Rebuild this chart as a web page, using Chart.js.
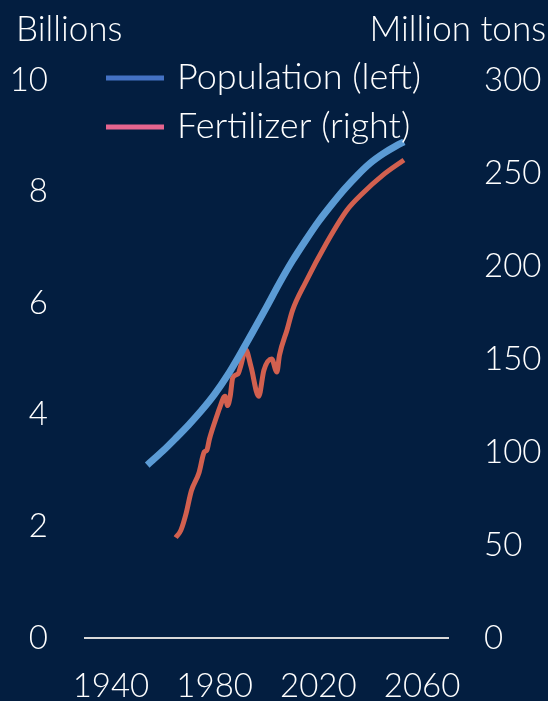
<!DOCTYPE html>
<html>
<head>
<meta charset="utf-8">
<script src="https://cdn.jsdelivr.net/npm/chart.js@4"></script>
<style>
    html, body { margin: 0; padding: 0; background: #031e40; }
    #wrap { position: relative; width: 548px; height: 701px; }
</style>
</head>
<body>
<div id="wrap"><canvas id="popChart"></canvas></div>
<script>
// world population, billions (left axis)
var popYears = [1954, 1960, 1965, 1970, 1975, 1980, 1985, 1990, 1995, 2000, 2005,
    2010, 2015, 2020, 2025, 2030, 2035, 2040, 2045, 2050, 2053];
var popBillions = [3.10, 3.35, 3.58, 3.82, 4.08, 4.37, 4.71, 5.10, 5.51, 5.93, 6.36,
    6.76, 7.12, 7.46, 7.76, 8.04, 8.29, 8.51, 8.68, 8.82, 8.89];

// fertilizer use, million tons (right axis)
var fertYears = [1965, 1967, 1969, 1971, 1974, 1976, 1977, 1978, 1981, 1982, 1984, 1985,
    1986, 1987, 1989, 1990, 1992, 1994, 1997, 1999, 2002, 2004, 2005, 2008, 2010,
    2015, 2023, 2031, 2037, 2045, 2053];
var fertTons = [54, 58, 67, 79, 89, 100, 101, 107, 120, 124, 130, 125,
    130, 140, 142, 146, 155, 146, 130, 144, 150, 143, 152, 166, 176,
    191, 212, 230, 239, 249, 257];

var xTicks = [1940, 1980, 2020, 2060];
var seriesNames = ['Population (left)', 'Fertilizer (right)'];

var fontFamily = 'Lato, "Open Sans", sans-serif';
Chart.defaults.font.family = fontFamily;
Chart.defaults.font.size = 33;
Chart.defaults.font.weight = '300';
Chart.defaults.color = '#ffffff';

function toPoints(xs, ys) {
    return xs.map(function (x, i) { return {x: x, y: ys[i]}; });
}

// titles above the axes and the legend inside the plot
var overlay = {
    id: 'overlay',
    afterDraw: function (chart) {
        var ctx = chart.ctx;
        ctx.save();
        ctx.fillStyle = '#ffffff';
        ctx.textBaseline = 'middle';
        ctx.font = '300 35px ' + fontFamily;
        ctx.textAlign = 'left';
        ctx.fillText('Billions', 16, 30);
        ctx.textAlign = 'right';
        ctx.fillText('Million tons', 546, 30);

        ctx.font = '300 36px ' + fontFamily;
        var rows = [77, 126];
        chart.data.datasets.forEach(function (ds, i) {
            ctx.strokeStyle = ds.legendColor;
            ctx.lineWidth = 5;
            ctx.beginPath();
            ctx.moveTo(106, rows[i] + 1);
            ctx.lineTo(164, rows[i] + 1);
            ctx.stroke();
            ctx.textAlign = 'left';
            ctx.fillText(ds.label, 177, rows[i]);
        });
        ctx.restore();
    }
};

var ctx = document.getElementById('popChart').getContext('2d');
var chart = new Chart(ctx, {
    type: 'line',
    data: {
        datasets: [{
            label: seriesNames[0],
            data: toPoints(popYears, popBillions),
            yAxisID: 'yLeft',
            borderColor: '#5b9bd5',
            legendColor: '#4472c4',
            borderWidth: 7,
            borderJoinStyle: 'round',
            pointRadius: 0,
            cubicInterpolationMode: 'monotone'
        }, {
            label: seriesNames[1],
            data: toPoints(fertYears, fertTons),
            yAxisID: 'yRight',
            borderColor: '#d2604f',
            legendColor: '#e5658f',
            borderWidth: 5,
            borderJoinStyle: 'round',
            pointRadius: 0,
            cubicInterpolationMode: 'monotone'
        }]
    },
    options: {
        responsive: true,
        maintainAspectRatio: false,
        animation: false,
        layout: {padding: {top: 80, left: 0, right: 0, bottom: 0}},
        plugins: {legend: {display: false}, tooltip: {enabled: false}},
        scales: {
            x: {
                type: 'linear',
                min: 1930,
                max: 2070,
                grid: {display: false, drawTicks: false},
                border: {display: true, color: '#d9d9d9', width: 2},
                ticks: {
                    padding: 29,
                    maxRotation: 0,
                    callback: function (value) { return String(value); }
                },
                afterBuildTicks: function (scale) {
                    scale.ticks = xTicks.map(function (v) { return {value: v}; });
                },
                afterFit: function (scale) { scale.height = 63; }
            },
            yLeft: {
                position: 'left',
                min: 0,
                max: 10,
                grid: {display: false, drawTicks: false},
                border: {display: false},
                ticks: {stepSize: 2, padding: 37},
                afterFit: function (scale) { scale.width = 85; }
            },
            yRight: {
                position: 'right',
                min: 0,
                max: 300,
                grid: {display: false, drawTicks: false},
                border: {display: false},
                ticks: {stepSize: 50, padding: 36},
                afterFit: function (scale) { scale.width = 100; }
            }
        }
    },
    plugins: [overlay]
});
</script>
</body>
</html>
